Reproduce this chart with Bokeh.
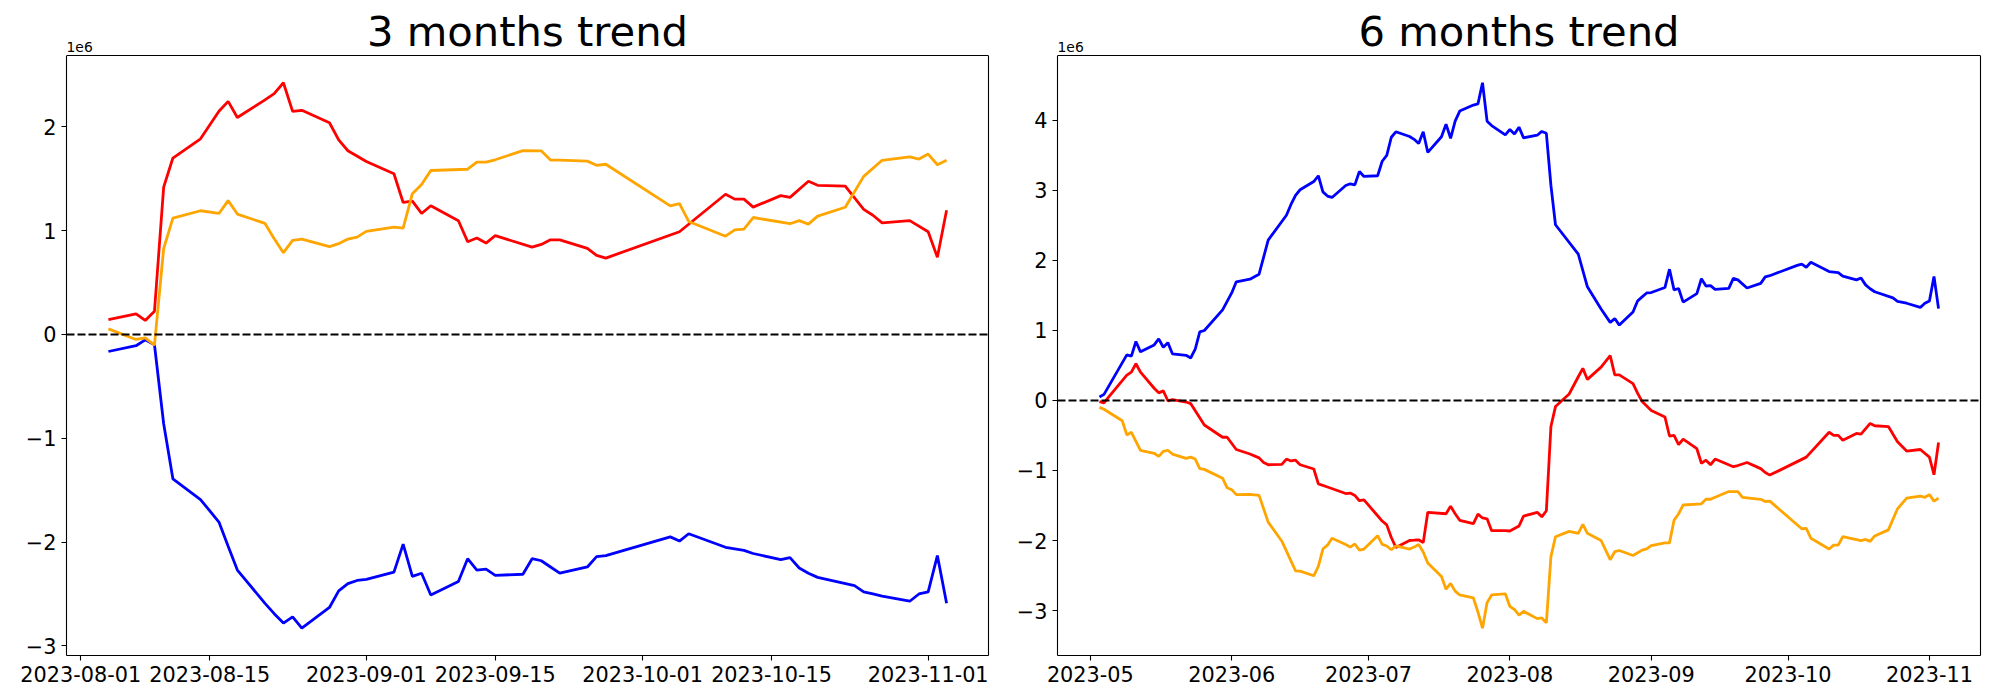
import pandas as pd
from bokeh.plotting import figure
from bokeh.models import Range1d, FixedTicker, Span, Label, CustomJSTickFormatter, LinearAxis
from bokeh.layouts import row
from bokeh.embed import file_html
from bokeh.resources import INLINE

# ---------------- 3 months trend (values in units of 1e6) ----------------
m3_red_dates = ["2023-08-04", "2023-08-07", "2023-08-08", "2023-08-09", "2023-08-10", "2023-08-11",
                "2023-08-14", "2023-08-16", "2023-08-17", "2023-08-18", "2023-08-21", "2023-08-22",
                "2023-08-23", "2023-08-24", "2023-08-25", "2023-08-28", "2023-08-29", "2023-08-30",
                "2023-09-01", "2023-09-04", "2023-09-05", "2023-09-06", "2023-09-07", "2023-09-08",
                "2023-09-11", "2023-09-12", "2023-09-13", "2023-09-14", "2023-09-15", "2023-09-19",
                "2023-09-20", "2023-09-21", "2023-09-22", "2023-09-25", "2023-09-26", "2023-09-27",
                "2023-10-05", "2023-10-10", "2023-10-11", "2023-10-12", "2023-10-13", "2023-10-16",
                "2023-10-17", "2023-10-19", "2023-10-20", "2023-10-23", "2023-10-25", "2023-10-26",
                "2023-10-27", "2023-10-30", "2023-11-01", "2023-11-02", "2023-11-03"]
m3_red = [0.144, 0.198, 0.135, 0.224, 1.419, 1.70, 1.885, 2.15, 2.246, 2.09, 2.26, 2.32,
          2.425, 2.15, 2.16, 2.04, 1.875, 1.77, 1.666, 1.548, 1.272, 1.285, 1.166, 1.24,
          1.096, 0.894, 0.929, 0.881, 0.952, 0.842, 0.868, 0.912, 0.912, 0.83, 0.762, 0.736,
          0.99, 1.351, 1.304, 1.304, 1.227, 1.338, 1.321, 1.476, 1.437, 1.429, 1.205, 1.149,
          1.076, 1.097, 0.99, 0.744, 1.196]

m3_orange_dates = ["2023-08-04", "2023-08-07", "2023-08-08", "2023-08-09", "2023-08-10", "2023-08-11",
                   "2023-08-14", "2023-08-16", "2023-08-17", "2023-08-18", "2023-08-21", "2023-08-22",
                   "2023-08-23", "2023-08-24", "2023-08-25", "2023-08-28", "2023-08-29", "2023-08-30",
                   "2023-08-31", "2023-09-01", "2023-09-04", "2023-09-05", "2023-09-06", "2023-09-07",
                   "2023-09-08", "2023-09-12", "2023-09-13", "2023-09-14", "2023-09-15", "2023-09-18",
                   "2023-09-20", "2023-09-21", "2023-09-22", "2023-09-25", "2023-09-26", "2023-09-27",
                   "2023-10-04", "2023-10-05", "2023-10-06", "2023-10-10", "2023-10-11", "2023-10-12",
                   "2023-10-13", "2023-10-17", "2023-10-18", "2023-10-19", "2023-10-20", "2023-10-23",
                   "2023-10-25", "2023-10-27", "2023-10-30", "2023-10-31", "2023-11-01", "2023-11-02",
                   "2023-11-03"]
m3_orange = [0.054, -0.048, -0.033, -0.103, 0.827, 1.121, 1.192, 1.166, 1.29, 1.16, 1.07, 0.923,
             0.788, 0.907, 0.919, 0.846, 0.875, 0.919, 0.938, 0.993, 1.035, 1.025, 1.356, 1.445,
             1.58, 1.592, 1.66, 1.66, 1.683, 1.772, 1.769, 1.68, 1.68, 1.67, 1.63, 1.64,
             1.239, 1.26, 1.089, 0.947, 1.007, 1.016, 1.127, 1.067, 1.097, 1.063, 1.14, 1.226,
             1.523, 1.678, 1.712, 1.69, 1.738, 1.635, 1.678]

m3_blue_dates = ["2023-08-04", "2023-08-07", "2023-08-08", "2023-08-09", "2023-08-10", "2023-08-11",
                 "2023-08-14", "2023-08-16", "2023-08-17", "2023-08-18", "2023-08-21", "2023-08-22",
                 "2023-08-23", "2023-08-24", "2023-08-25", "2023-08-28", "2023-08-29", "2023-08-30",
                 "2023-08-31", "2023-09-01", "2023-09-04", "2023-09-05", "2023-09-06", "2023-09-07",
                 "2023-09-08", "2023-09-11", "2023-09-12", "2023-09-13", "2023-09-14", "2023-09-15",
                 "2023-09-18", "2023-09-19", "2023-09-20", "2023-09-21", "2023-09-22", "2023-09-25",
                 "2023-09-26", "2023-09-27", "2023-10-04", "2023-10-05", "2023-10-06", "2023-10-10",
                 "2023-10-12", "2023-10-13", "2023-10-16", "2023-10-17", "2023-10-18", "2023-10-19",
                 "2023-10-20", "2023-10-24", "2023-10-25", "2023-10-26", "2023-10-27", "2023-10-30",
                 "2023-10-31", "2023-11-01", "2023-11-02", "2023-11-03"]
m3_blue = [-0.164, -0.108, -0.052, -0.099, -0.86, -1.39, -1.59, -1.807, -2.04, -2.27, -2.59, -2.69,
           -2.78, -2.72, -2.83, -2.63, -2.47, -2.40, -2.37, -2.36, -2.29, -2.02, -2.33, -2.30,
           -2.51, -2.38, -2.16, -2.27, -2.26, -2.32, -2.31, -2.16, -2.18, -2.24, -2.30, -2.24,
           -2.14, -2.13, -1.95, -1.99, -1.92, -2.05, -2.08, -2.11, -2.17, -2.15, -2.25, -2.30,
           -2.34, -2.42, -2.48, -2.50, -2.52, -2.57, -2.50, -2.48, -2.13, -2.59]

m3_ticks = ["2023-08-01", "2023-08-15", "2023-09-01", "2023-09-15", "2023-10-01", "2023-10-15", "2023-11-01"]
m3_tick_labels = ["2023-08-01", "2023-08-15", "2023-09-01", "2023-09-15", "2023-10-01", "2023-10-15", "2023-11-01"]
m3_yticks = [-3, -2, -1, 0, 1, 2]

# ---------------- 6 months trend (values in units of 1e6) ----------------
m6_blue_dates = ["2023-05-03", "2023-05-04", "2023-05-09", "2023-05-10", "2023-05-11", "2023-05-12",
                 "2023-05-15", "2023-05-16", "2023-05-17", "2023-05-18", "2023-05-19", "2023-05-22",
                 "2023-05-23", "2023-05-24", "2023-05-25", "2023-05-26", "2023-05-30", "2023-05-31",
                 "2023-06-01", "2023-06-02", "2023-06-05", "2023-06-07", "2023-06-09", "2023-06-13",
                 "2023-06-14", "2023-06-15", "2023-06-16", "2023-06-19", "2023-06-20", "2023-06-21",
                 "2023-06-22", "2023-06-23", "2023-06-26", "2023-06-27", "2023-06-28", "2023-06-29",
                 "2023-06-30", "2023-07-03", "2023-07-04", "2023-07-05", "2023-07-06", "2023-07-07",
                 "2023-07-10", "2023-07-11", "2023-07-12", "2023-07-13", "2023-07-14", "2023-07-17",
                 "2023-07-18", "2023-07-19", "2023-07-20", "2023-07-21", "2023-07-24", "2023-07-25",
                 "2023-07-26", "2023-07-27", "2023-07-28", "2023-07-31", "2023-08-01", "2023-08-02",
                 "2023-08-03", "2023-08-04", "2023-08-07", "2023-08-08", "2023-08-09", "2023-08-10",
                 "2023-08-11", "2023-08-16", "2023-08-18", "2023-08-21", "2023-08-23", "2023-08-24",
                 "2023-08-25", "2023-08-28", "2023-08-29", "2023-08-30", "2023-08-31", "2023-09-01",
                 "2023-09-04", "2023-09-05", "2023-09-06", "2023-09-07", "2023-09-08", "2023-09-11",
                 "2023-09-12", "2023-09-13", "2023-09-14", "2023-09-15", "2023-09-18", "2023-09-19",
                 "2023-09-20", "2023-09-22", "2023-09-25", "2023-09-26", "2023-09-27", "2023-10-03",
                 "2023-10-04", "2023-10-05", "2023-10-06", "2023-10-10", "2023-10-12", "2023-10-13",
                 "2023-10-16", "2023-10-17", "2023-10-18", "2023-10-19", "2023-10-20", "2023-10-24",
                 "2023-10-25", "2023-10-27", "2023-10-30", "2023-10-31", "2023-11-01", "2023-11-02",
                 "2023-11-03"]
m6_blue = [0.049, 0.087, 0.651, 0.634, 0.842, 0.695, 0.793, 0.880, 0.760, 0.826, 0.667, 0.645,
           0.607, 0.733, 0.979, 1.000, 1.295, 1.416, 1.536, 1.695, 1.733, 1.804, 2.290, 2.646,
           2.80, 2.93, 3.01, 3.127, 3.21, 2.98, 2.92, 2.90, 3.07, 3.095, 3.08, 3.27,
           3.20, 3.21, 3.417, 3.50, 3.76, 3.838, 3.77, 3.73, 3.67, 3.838, 3.543, 3.767,
           3.947, 3.745, 3.99, 4.134, 4.22, 4.237, 4.538, 3.99, 3.926, 3.794, 3.871, 3.805,
           3.904, 3.751, 3.789, 3.843, 3.816, 3.072, 2.51, 2.089, 1.624, 1.307, 1.116, 1.17,
           1.077, 1.263, 1.422, 1.48, 1.536, 1.542, 1.613, 1.875, 1.58, 1.60, 1.405, 1.526,
           1.739, 1.635, 1.64, 1.586, 1.602, 1.744, 1.722, 1.607, 1.673, 1.766, 1.782, 1.93,
           1.947, 1.903, 1.974, 1.842, 1.826, 1.777, 1.723, 1.75, 1.651, 1.596, 1.553, 1.465,
           1.416, 1.389, 1.329, 1.389, 1.422, 1.772, 1.312]

m6_red_dates = ["2023-05-03", "2023-05-04", "2023-05-05", "2023-05-08", "2023-05-09", "2023-05-10",
                "2023-05-11", "2023-05-12", "2023-05-15", "2023-05-16", "2023-05-17", "2023-05-18",
                "2023-05-19", "2023-05-22", "2023-05-23", "2023-05-26", "2023-05-30", "2023-05-31",
                "2023-06-02", "2023-06-05", "2023-06-07", "2023-06-08", "2023-06-09", "2023-06-12",
                "2023-06-13", "2023-06-14", "2023-06-15", "2023-06-16", "2023-06-19", "2023-06-20",
                "2023-06-22", "2023-06-26", "2023-06-27", "2023-06-28", "2023-06-29", "2023-06-30",
                "2023-07-03", "2023-07-04", "2023-07-05", "2023-07-06", "2023-07-07", "2023-07-10",
                "2023-07-11", "2023-07-12", "2023-07-13", "2023-07-14", "2023-07-18", "2023-07-19",
                "2023-07-20", "2023-07-21", "2023-07-24", "2023-07-25", "2023-07-26", "2023-07-27",
                "2023-07-28", "2023-07-31", "2023-08-01", "2023-08-03", "2023-08-04", "2023-08-07",
                "2023-08-08", "2023-08-09", "2023-08-10", "2023-08-11", "2023-08-14", "2023-08-16",
                "2023-08-17", "2023-08-18", "2023-08-21", "2023-08-22", "2023-08-23", "2023-08-24",
                "2023-08-25", "2023-08-28", "2023-08-29", "2023-08-30", "2023-09-01", "2023-09-04",
                "2023-09-05", "2023-09-06", "2023-09-07", "2023-09-08", "2023-09-11", "2023-09-12",
                "2023-09-13", "2023-09-14", "2023-09-15", "2023-09-19", "2023-09-20", "2023-09-22",
                "2023-09-25", "2023-09-26", "2023-09-27", "2023-10-05", "2023-10-10", "2023-10-11",
                "2023-10-12", "2023-10-13", "2023-10-16", "2023-10-17", "2023-10-19", "2023-10-20",
                "2023-10-23", "2023-10-25", "2023-10-27", "2023-10-30", "2023-11-01", "2023-11-02",
                "2023-11-03"]
m6_red = [-0.016, -0.033, 0.049, 0.284, 0.361, 0.405, 0.525, 0.405, 0.175, 0.109, 0.137, -0.004,
          0.011, -0.022, -0.044, -0.35, -0.525, -0.525, -0.70, -0.765, -0.82, -0.886, -0.918, -0.913,
          -0.837, -0.864, -0.853, -0.918, -0.979, -1.192, -1.236, -1.329, -1.323, -1.356, -1.432, -1.42,
          -1.646, -1.722, -1.777, -1.957, -2.1, -2.0, -1.996, -1.99, -2.03, -1.597, -1.618, -1.51,
          -1.618, -1.711, -1.76, -1.624, -1.678, -1.69, -1.859, -1.859, -1.864, -1.793, -1.651, -1.597,
          -1.662, -1.575, -0.372, -0.087, 0.093, 0.339, 0.459, 0.301, 0.476, 0.558, 0.64, 0.366,
          0.366, 0.241, 0.104, -0.016, -0.142, -0.235, -0.508, -0.498, -0.629, -0.552, -0.689, -0.897,
          -0.853, -0.918, -0.837, -0.946, -0.929, -0.886, -0.973, -1.028, -1.066, -0.809, -0.454, -0.498,
          -0.498, -0.569, -0.47, -0.481, -0.328, -0.361, -0.372, -0.59, -0.722, -0.70, -0.809, -1.061,
          -0.601]

m6_orange_dates = ["2023-05-03", "2023-05-04", "2023-05-08", "2023-05-09", "2023-05-10", "2023-05-12",
                   "2023-05-15", "2023-05-16", "2023-05-17", "2023-05-18", "2023-05-19", "2023-05-22",
                   "2023-05-23", "2023-05-24", "2023-05-25", "2023-05-26", "2023-05-30", "2023-05-31",
                   "2023-06-01", "2023-06-02", "2023-06-05", "2023-06-07", "2023-06-09", "2023-06-12",
                   "2023-06-15", "2023-06-16", "2023-06-19", "2023-06-20", "2023-06-21", "2023-06-22",
                   "2023-06-23", "2023-06-26", "2023-06-27", "2023-06-28", "2023-06-29", "2023-06-30",
                   "2023-07-03", "2023-07-04", "2023-07-05", "2023-07-06", "2023-07-07", "2023-07-10",
                   "2023-07-11", "2023-07-12", "2023-07-13", "2023-07-14", "2023-07-17", "2023-07-18",
                   "2023-07-19", "2023-07-20", "2023-07-21", "2023-07-24", "2023-07-25", "2023-07-26",
                   "2023-07-27", "2023-07-28", "2023-07-31", "2023-08-01", "2023-08-02", "2023-08-03",
                   "2023-08-04", "2023-08-07", "2023-08-08", "2023-08-09", "2023-08-10", "2023-08-11",
                   "2023-08-14", "2023-08-16", "2023-08-17", "2023-08-18", "2023-08-21", "2023-08-23",
                   "2023-08-24", "2023-08-25", "2023-08-28", "2023-08-30", "2023-08-31", "2023-09-01",
                   "2023-09-04", "2023-09-05", "2023-09-06", "2023-09-07", "2023-09-08", "2023-09-12",
                   "2023-09-13", "2023-09-14", "2023-09-15", "2023-09-18", "2023-09-20", "2023-09-21",
                   "2023-09-25", "2023-09-26", "2023-09-27", "2023-10-04", "2023-10-05", "2023-10-06",
                   "2023-10-10", "2023-10-11", "2023-10-12", "2023-10-13", "2023-10-17", "2023-10-18",
                   "2023-10-19", "2023-10-20", "2023-10-23", "2023-10-25", "2023-10-27", "2023-10-30",
                   "2023-10-31", "2023-11-01", "2023-11-02", "2023-11-03"]
m6_orange = [-0.098, -0.126, -0.29, -0.492, -0.454, -0.711, -0.754, -0.798, -0.727, -0.711, -0.765, -0.826,
             -0.809, -0.837, -0.974, -0.984, -1.11, -1.247, -1.274, -1.345, -1.34, -1.356, -1.738, -2.01,
             -2.433, -2.438, -2.504, -2.368, -2.122, -2.067, -1.969, -2.056, -2.094, -2.05, -2.138, -2.122,
             -1.931, -2.056, -2.078, -2.132, -2.078, -2.122, -2.094, -2.056, -2.165, -2.323, -2.515, -2.695,
             -2.614, -2.723, -2.778, -2.821, -3.024, -3.253, -2.887, -2.778, -2.761, -2.942, -2.985, -3.067,
             -3.012, -3.116, -3.106, -3.177, -2.231, -1.946, -1.87, -1.897, -1.771, -1.897, -2.0, -2.274,
             -2.16, -2.143, -2.214, -2.138, -2.121, -2.072, -2.034, -2.034, -1.711, -1.618, -1.493, -1.476,
             -1.411, -1.411, -1.383, -1.301, -1.301, -1.383, -1.411, -1.443, -1.438, -1.832, -1.826, -1.968,
             -2.121, -2.067, -2.067, -1.946, -2.001, -1.985, -2.012, -1.935, -1.848, -1.547, -1.394, -1.367,
             -1.383, -1.345, -1.438, -1.394]

m6_ticks = ["2023-05-01", "2023-06-01", "2023-07-01", "2023-08-01", "2023-09-01", "2023-10-01", "2023-11-01"]
m6_tick_labels = ["2023-05", "2023-06", "2023-07", "2023-08", "2023-09", "2023-10", "2023-11"]
m6_yticks = [-3, -2, -1, 0, 1, 2, 3, 4]

FONT = "DejaVu Sans"
BOX_H = 600      # plotting box (axes) height in px
HEAD = 47        # space above the box (inside the frame) for title and the 1e6 note


def to_ms(dates):
    return [float((pd.Timestamp(d) - pd.Timestamp("1970-01-01")) // pd.Timedelta("1ms")) for d in dates]


def make_panel(title, series, ticks, tick_labels, yticks, box_w, border_left, border_right):
    for d, v, c in series:
        assert len(d) == len(v), (title, c, len(d), len(v))
    all_x = [x for d, v, c in series for x in to_ms(d)]
    all_y = [y for d, v, c in series for y in v]
    xmin, xmax = min(all_x), max(all_x)
    ymin, ymax = min(all_y), max(all_y)
    xs, ys = xmax - xmin, ymax - ymin
    x0, x1 = xmin - 0.05 * xs, xmax + 0.05 * xs
    y0, y1 = ymin - 0.05 * ys, ymax + 0.05 * ys
    y_top = y1 + HEAD * (y1 - y0) / BOX_H

    p = figure(frame_width=box_w, frame_height=BOX_H + HEAD, x_axis_type="datetime",
               x_range=Range1d(x0, x1), y_range=Range1d(y0, y_top),
               output_backend="svg", toolbar_location=None,
               min_border_left=border_left, min_border_right=border_right,
               min_border_top=8, min_border_bottom=37,
               background_fill_color="white", border_fill_color="white")
    p.xgrid.visible = False
    p.ygrid.visible = False
    p.outline_line_color = None

    tick_ms = to_ms(ticks)
    p.xaxis.ticker = FixedTicker(ticks=tick_ms)
    p.xaxis.major_label_overrides = {int(t): lab for t, lab in zip(tick_ms, tick_labels)}
    p.yaxis.ticker = FixedTicker(ticks=yticks)
    p.yaxis.formatter = CustomJSTickFormatter(
        code="return tick < 0 ? '\u2212' + Math.abs(tick).toFixed(0) : tick.toFixed(0);")
    p.yaxis.bounds = (y0, y1)
    for ax in (p.xaxis[0], p.yaxis[0]):
        ax.axis_line_color = "black"
        ax.axis_line_width = 1.1
        ax.major_tick_line_color = "black"
        ax.major_tick_line_width = 1.1
        ax.major_tick_out = 5
        ax.major_tick_in = 0
        ax.minor_tick_line_color = None
        ax.major_label_standoff = 5
        ax.major_label_text_font = FONT
        ax.major_label_text_font_size = "20.8px"
        ax.major_label_text_color = "black"

    # right spine
    right = LinearAxis(ticker=FixedTicker(ticks=[]), bounds=(y0, y1), axis_line_color="black",
                       axis_line_width=1.1, major_tick_out=0, major_tick_in=0,
                       major_label_standoff=0, minor_tick_line_color=None,
                       major_tick_line_color=None)
    p.add_layout(right, "right")
    # top spine
    p.add_layout(Span(location=y1, dimension="width", line_color="black", line_width=1.1))

    for d, v, c in series:
        p.line(to_ms(d), v, line_color=c, line_width=2.8)

    p.add_layout(Span(location=0, dimension="width", line_color="black",
                      line_width=2.1, line_dash="8 3"))
    p.add_layout(Label(x=(x0 + x1) / 2, y=y1, y_offset=24, text=title, text_font=FONT,
                       text_font_size="41.7px", text_align="center", text_baseline="alphabetic",
                       text_color="black"))
    p.add_layout(Label(x=x0, y=y1, y_offset=9, text="1e6", text_font=FONT,
                       text_font_size="13.9px", text_align="left", text_baseline="alphabetic",
                       text_color="black"))
    return p


p1 = make_panel("3 months trend",
                [(m3_blue_dates, m3_blue, "blue"), (m3_red_dates, m3_red, "red"),
                 (m3_orange_dates, m3_orange, "orange")],
                m3_ticks, m3_tick_labels, m3_yticks, 922, 66, 10)
p2 = make_panel("6 months trend",
                [(m6_blue_dates, m6_blue, "blue"), (m6_red_dates, m6_red, "red"),
                 (m6_orange_dates, m6_orange, "orange")],
                m6_ticks, m6_tick_labels, m6_yticks, 923, 59, 12)

layout = row(p1, p2)
open("out.html", "w").write(file_html(layout, INLINE))
